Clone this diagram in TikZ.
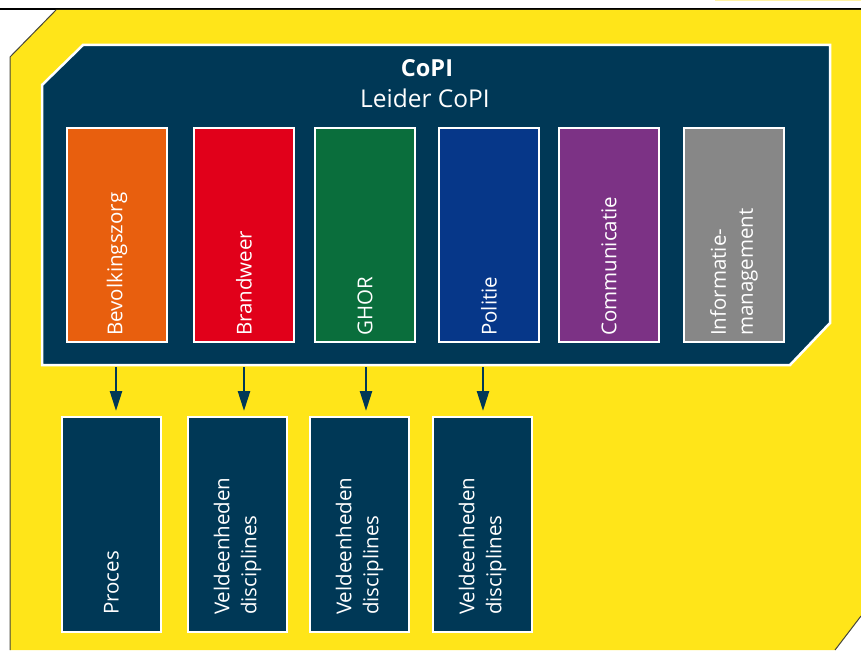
\documentclass[tikz,border=0pt]{standalone}
\usepackage{fontspec}
\setmainfont{Open Sans}
\usetikzlibrary{arrows.meta}
\definecolor{ylw}{RGB}{255,229,25}
\definecolor{paleylw}{RGB}{255,242,160}
\definecolor{navy}{RGB}{0,56,86}
\definecolor{corange}{RGB}{232,95,14}
\definecolor{cred}{RGB}{225,0,26}
\definecolor{cgreen}{RGB}{10,110,60}
\definecolor{cblue}{RGB}{6,55,137}
\definecolor{cpurple}{RGB}{124,50,133}
\definecolor{cgrey}{RGB}{135,135,135}
\definecolor{edgegrey}{RGB}{70,70,60}
\begin{document}
\begin{tikzpicture}[x=1pt,y=-1pt,
  topbox/.style={draw=white, line width=2pt, fill=#1, minimum width=100pt, minimum height=214pt, inner sep=0pt, anchor=north west},
  lowbox/.style={draw=white, line width=2pt, fill=navy, minimum width=99pt, minimum height=215pt, inner sep=0pt, anchor=north west},
  lbl/.style={rotate=90, anchor=west, text=white, font=\fontsize{20.5}{27}\selectfont, align=left, inner sep=0pt},
  ttl/.style={text=white, anchor=base, inner sep=0pt, font=\fontsize{24.5}{28}\selectfont},
  arr/.style={draw=navy, line width=2.5pt, -{Triangle[length=20pt,width=12pt]}}]
\useasboundingbox (0,0) rectangle (861,650);
\begin{scope}
\clip (0,0) rectangle (861,650);
% pale strip at top right
\fill[paleylw] (715,0) rectangle (861,1.5);
% top rule
\draw[black, line width=2pt] (0,9) -- (861,9);
% yellow background
\fill[ylw] (56,10) -- (861,10) -- (861,616) -- (835,650) -- (10,650) -- (10,57) -- cycle;
\draw[edgegrey, line width=1pt] (10,650) -- (10,57) -- (56,10);
\draw[edgegrey, line width=1pt] (861,616) -- (835,650);
% navy CoPI panel
\draw[white, line width=2.5pt, fill=navy] (83,45) -- (830,45) -- (830,323) -- (790,365) -- (42,365) -- (42,85) -- cycle;
\end{scope}
% title
\node[ttl, font=\fontsize{23.5}{28}\selectfont\bfseries] (copi) at (427,77) {CoPI};
\node[ttl] (leider) at (425,108) {Leider CoPI};
% top row
\node[topbox=corange] (bz) at (66,127) {};
\node[topbox=cred] (bw) at (193,127) {};
\node[topbox=cgreen] (gh) at (314,127) {};
\node[topbox=cblue] (po) at (438,127) {};
\node[topbox=cpurple] (co) at (558,127) {};
\node[topbox=cgrey] (im) at (683,127) {};
\node[lbl] (tbz) at (bz.center |- 0,336) {Bevolkingszorg};
\node[lbl] (tbw) at (bw.center |- 0,336) {Brandweer};
\node[lbl] (tgh) at (gh.center |- 0,336) {GHOR};
\node[lbl] (tpo) at (po.center |- 0,336) {Politie};
\node[lbl] (tco) at (co.center |- 0,336) {Communicatie};
\node[lbl] (tim) at (im.center |- 0,336) {Informatie-\\management};
% bottom row
\node[lowbox] (pr) at (61,416) {};
\node[lowbox] (v1) at (187,416) {};
\node[lowbox] (v2) at (309,416) {};
\node[lowbox] (v3) at (432,416) {};
\node[lbl] (tpr) at (pr.center |- 0,615) {Proces};
\node[lbl] (tv1) at (v1.center |- 0,615) {Veldeenheden\\disciplines};
\node[lbl] (tv2) at (v2.center |- 0,615) {Veldeenheden\\disciplines};
\node[lbl] (tv3) at (v3.center |- 0,615) {Veldeenheden\\disciplines};
% arrows
\coordinate (s1) at (116,367);
\coordinate (s2) at (244,367);
\coordinate (s3) at (366,367);
\coordinate (s4) at (483,367);
\draw[arr] (s1) -- ([yshift=5pt]s1 |- pr.north);
\draw[arr] (s2) -- ([yshift=5pt]s2 |- v1.north);
\draw[arr] (s3) -- ([yshift=5pt]s3 |- v2.north);
\draw[arr] (s4) -- ([yshift=5pt]s4 |- v3.north);
\end{tikzpicture}
\end{document}
